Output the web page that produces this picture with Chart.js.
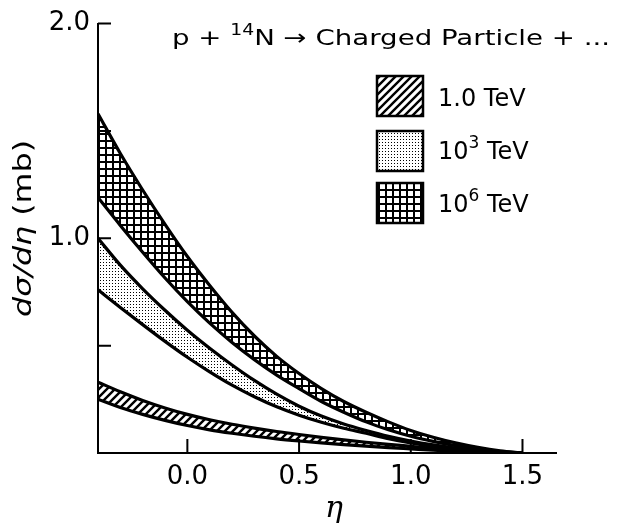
<!DOCTYPE html>
<html><head><meta charset="utf-8">
<script src="https://cdn.jsdelivr.net/npm/chart.js@4"></script>
<style>html,body{margin:0;padding:0;background:#fff}</style>
</head><body>
<canvas id="c" width="618" height="525"></canvas>
<script>
// ---- data ----
const eta = [-0.4,-0.3,-0.2,-0.1,0.0,0.1,0.2,0.3,0.4,0.5,0.6,0.7,0.8,0.9,1.0,1.1,1.2,1.3,1.4,1.5];
const tev1Upper = [0.33,0.285,0.245,0.21,0.18,0.155,0.134,0.116,0.10,0.086,0.073,0.061,0.05,0.04,0.031,0.022,0.014,0.008,0.003,0];
const tev1Lower = [0.25,0.212,0.18,0.152,0.128,0.108,0.092,0.078,0.066,0.056,0.047,0.039,0.032,0.025,0.019,0.013,0.008,0.004,0.001,0];
const tev3Upper = [1.0,0.875,0.765,0.665,0.572,0.488,0.41,0.338,0.274,0.218,0.172,0.135,0.105,0.078,0.056,0.038,0.023,0.012,0.004,0];
const tev3Lower = [0.76,0.678,0.598,0.52,0.446,0.378,0.316,0.262,0.215,0.176,0.143,0.115,0.092,0.067,0.047,0.031,0.018,0.009,0.003,0];
const tev6Upper = [1.58,1.395,1.225,1.065,0.915,0.78,0.655,0.545,0.45,0.37,0.30,0.24,0.19,0.145,0.105,0.073,0.047,0.026,0.01,0];
const tev6Lower = [1.19,1.06,0.935,0.815,0.705,0.605,0.515,0.435,0.363,0.30,0.24,0.19,0.145,0.108,0.078,0.054,0.034,0.018,0.007,0];
const legendLabels = ['1.0 TeV','10^3 TeV','10^6 TeV'];
const xTickValues = [0.0,0.5,1.0,1.5];
const xTickLabels = ['0.0','0.5','1.0','1.5'];
const yTickValues = [0.5,1.0,1.5,2.0];
const yTickLabels = ['','1.0','','2.0'];
const titleText = 'p + ^14N \u2192 Charged Particle + ...';

// ---- fill patterns ----
function makePattern(kind){
  const c = document.createElement('canvas');
  const g = c.getContext('2d');
  g.fillStyle = '#000'; g.strokeStyle = '#000';
  if (kind === 'hatch') {
    c.width = c.height = 8;
    g.lineWidth = 2.4; g.beginPath();
    g.moveTo(0,8); g.lineTo(8,0);
    g.moveTo(-2,2); g.lineTo(2,-2);
    g.moveTo(6,10); g.lineTo(10,6);
    g.stroke();
  } else if (kind === 'dots') {
    c.width = c.height = 3;
    g.fillStyle = '#000';
    g.fillRect(1,1,1,1);
  } else {
    c.width = c.height = 7;
    g.fillRect(0,0,7,2); g.fillRect(0,0,2,7);
  }
  return g.createPattern(c,'repeat');
}
const patterns = [makePattern('hatch'), makePattern('dots'), makePattern('grid')];

const pts = arr => arr.map((v,i)=>({x:eta[i], y:v}));
const bands = [[tev1Upper,tev1Lower],[tev3Upper,tev3Lower],[tev6Upper,tev6Lower]];
const datasets = [];
bands.forEach((b,i)=>{
  datasets.push({label:legendLabels[i], data:pts(b[0]), fill:'+1', backgroundColor:patterns[i]});
  datasets.push({label:legendLabels[i]+' low', data:pts(b[1]), fill:false});
});

// ---- rich text helper: '^' marks a superscript run of digits ----
function parseRich(text, size, family, style){
  const segs = []; const re = /\^(\d+)/g; let last = 0, m;
  while ((m = re.exec(text))) {
    if (m.index > last) segs.push({t:text.slice(last,m.index), font:`${style||''} ${size}px ${family}`, dy:0});
    segs.push({t:m[1], font:`${style||''} ${Math.round(size*0.7)}px ${family}`, dy:-Math.round(size*0.45)});
    last = m.index + m[0].length;
  }
  if (last < text.length) segs.push({t:text.slice(last), font:`${style||''} ${size}px ${family}`, dy:0});
  return segs;
}
function drawSegs(ctx, segs, x, y, targetW){
  let w = 0;
  segs.forEach(s=>{ctx.font = s.font; s.w = ctx.measureText(s.t).width; w += s.w;});
  const sx = targetW ? targetW / w : 1;
  ctx.save(); ctx.translate(x,y); ctx.scale(sx,1);
  ctx.textBaseline = 'alphabetic'; ctx.textAlign = 'left'; ctx.fillStyle = '#000';
  let cx = 0;
  segs.forEach(s=>{ctx.font = s.font; ctx.fillText(s.t, cx, s.dy); cx += s.w;});
  ctx.restore();
}

const decor = {
  id:'decor',
  afterDraw(chart){
    const ctx = chart.ctx, xs = chart.scales.x, ys = chart.scales.y, a = chart.chartArea;
    ctx.save();
    ctx.strokeStyle = '#000'; ctx.lineWidth = 2;
    // inward tick marks
    ctx.beginPath();
    yTickValues.forEach(v=>{const y = ys.getPixelForValue(v); ctx.moveTo(a.left, y); ctx.lineTo(a.left+13, y);});
    xTickValues.forEach(v=>{const x = xs.getPixelForValue(v); ctx.moveTo(x, a.bottom); ctx.lineTo(x, a.bottom-14);});
    ctx.stroke();
    // legend
    const boxTops = [76,131,183], baselines = [106,159,212];
    legendLabels.forEach((lab,i)=>{
      ctx.fillStyle = '#fff'; ctx.fillRect(377, boxTops[i], 46, 40);
      ctx.fillStyle = patterns[i]; ctx.fillRect(377, boxTops[i], 46, 40);
      ctx.lineWidth = 2.5; ctx.strokeStyle = '#000'; ctx.strokeRect(377, boxTops[i], 46, 40);
      drawSegs(ctx, parseRich(lab, 24, '"DejaVu Sans"'), 438, baselines[i]);
    });
    // chart title
    drawSegs(ctx, parseRich(titleText, 22, '"DejaVu Sans"'), 172, 45, 438);
    // y-axis title (rotated)
    ctx.save(); ctx.translate(31, 317); ctx.rotate(-Math.PI/2);
    drawSegs(ctx, [
      {t:'d\u03C3/d\u03B7', font:'italic 24px "DejaVu Sans"', dy:0},
      {t:' (mb)', font:'24px "DejaVu Sans"', dy:0}
    ], 0, 0, 177);
    ctx.restore();
    // x-axis title
    ctx.font = 'italic 30px "DejaVu Serif"'; ctx.fillStyle = '#000';
    ctx.textAlign = 'center'; ctx.textBaseline = 'alphabetic';
    ctx.fillText('\u03B7', 334, 517);
    ctx.restore();
  }
};

new Chart(document.getElementById('c'), {
  type:'line',
  data:{datasets},
  options:{
    responsive:false, animation:false, devicePixelRatio:1,
    layout:{padding:{top:22, right:62, left:0, bottom:0}},
    plugins:{legend:{display:false}, tooltip:{enabled:false}, title:{display:false}},
    elements:{point:{radius:0}, line:{borderWidth:3.2, borderColor:'#000', cubicInterpolationMode:'monotone'}},
    scales:{
      x:{type:'linear', min:-0.4, max:1.65,
        afterFit(s){ s.height = 72; },
        afterBuildTicks(s){ s.ticks = xTickValues.map(v=>({value:v})); },
        grid:{display:false, drawTicks:false},
        border:{display:true, color:'#000', width:2},
        ticks:{padding:9, color:'#000', font:{family:'DejaVu Sans', size:26}, maxRotation:0,
          callback:(v,i)=>xTickLabels[i]}
      },
      y:{type:'linear', min:0, max:2,
        afterFit(s){ s.width = 98; },
        afterBuildTicks(s){ s.ticks = yTickValues.map(v=>({value:v})); },
        grid:{display:false, drawTicks:false},
        border:{display:true, color:'#000', width:2},
        ticks:{padding:8, color:'#000', font:{family:'DejaVu Sans', size:26},
          callback:(v,i)=>yTickLabels[i]}
      }
    }
  },
  plugins:[decor]
});
</script>
</body></html>
